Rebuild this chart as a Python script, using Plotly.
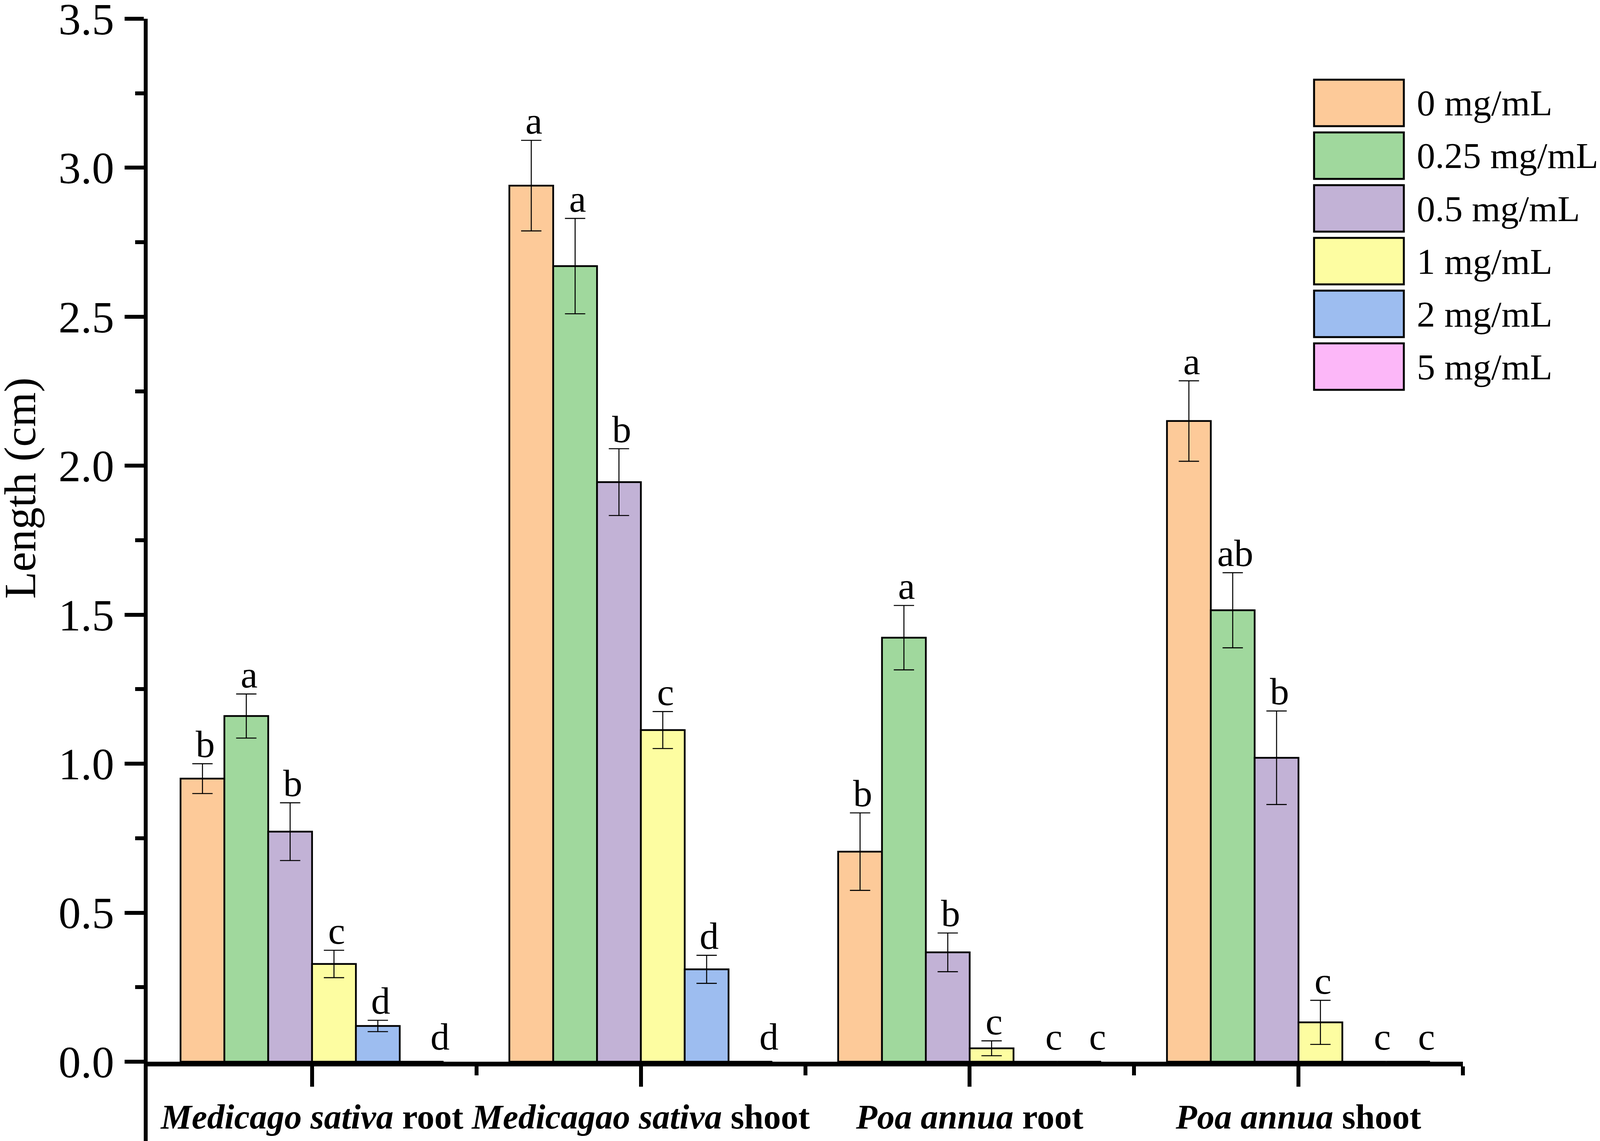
import plotly.graph_objects as go

# ---------------- data ----------------
categories = ["<i>Medicago sativa</i> root", "<i>Medicagao sativa</i> shoot",
              "<i>Poa annua</i> root", "<i>Poa annua</i> shoot"]
series_names = ["0 mg/mL", "0.25 mg/mL", "0.5 mg/mL", "1 mg/mL", "2 mg/mL", "5 mg/mL"]

mean_0 = [0.95, 2.94, 0.705, 2.15]
mean_025 = [1.16, 2.67, 1.423, 1.515]
mean_05 = [0.772, 1.945, 0.367, 1.02]
mean_1 = [0.328, 1.113, 0.045, 0.132]
mean_2 = [0.12, 0.31, 0.0, 0.0]
mean_5 = [0.0, 0.0, 0.0, 0.0]

err_0 = [0.05, 0.152, 0.13, 0.135]
err_025 = [0.074, 0.16, 0.108, 0.126]
err_05 = [0.097, 0.112, 0.065, 0.157]
err_1 = [0.046, 0.062, 0.025, 0.074]
err_2 = [0.019, 0.047, None, None]
err_5 = [None, None, None, None]

letters_0 = ["b", "a", "b", "a"]
letters_025 = ["a", "a", "a", "ab"]
letters_05 = ["b", "b", "b", "b"]
letters_1 = ["c", "c", "c", "c"]
letters_2 = ["d", "d", "c", "c"]
letters_5 = ["d", "d", "c", "c"]

y_tick_vals = [0.0, 0.5, 1.0, 1.5, 2.0, 2.5, 3.0, 3.5]
y_tick_text = ["0.0", "0.5", "1.0", "1.5", "2.0", "2.5", "3.0", "3.5"]
y_title = "Length (cm)"

colors = ["#FDCA99", "#A0D89D", "#C2B2D6", "#FDFDA1", "#9DBDF0", "#FCB7F8"]

means = [mean_0, mean_025, mean_05, mean_1, mean_2, mean_5]
errs = [err_0, err_025, err_05, err_1, err_2, err_5]
letters = [letters_0, letters_025, letters_05, letters_1, letters_2, letters_5]

# ---------------- layout (pixels) ----------------
# page viewport is 4096 wide with an 8px body margin
W, H = 4088, 2913
ML, MR, MT, MB = 370, 351, 40, 203
PW, PH = W - ML - MR, H - MT - MB
FX = 4096 / 4331          # horizontal mapping from the reference image
FONT = "Liberation Serif"


def ref_x(p):             # reference pixel x -> paper x
    return (p * FX - 8 - ML) / PW


def ref_y(p):             # reference pixel y -> paper y
    return (MT + PH - (p - 8)) / PH


x_pos = list(range(len(categories)))
n = len(series_names)
bargap = 0.2
bw = (1 - bargap) / n

fig = go.Figure()
for i in range(n):
    fig.add_trace(go.Bar(
        x=x_pos, y=means[i], name=series_names[i],
        marker=dict(color=colors[i], line=dict(color="black", width=4.5)),
        error_y=dict(type="data", array=errs[i], visible=True,
                     color="black", thickness=2.6, width=26),
        showlegend=False,
    ))

annotations = []
# significance letters above each bar
for i in range(n):
    off = -(1 - bargap) / 2 + bw * (i + 0.5)
    for g in range(len(categories)):
        v = means[i][g]
        e = errs[i][g] or 0
        zero = v == 0
        annotations.append(dict(
            x=x_pos[g] + off, y=v + e, xref="x", yref="y",
            text=letters[i][g], showarrow=False,
            xanchor="center", yanchor="bottom",
            xshift=47 if zero else 7, yshift=8 if zero else -6,
            font=dict(family=FONT, size=98, color="black"),
        ))

# legend with large swatches, drawn like the original
shapes = []
box_x0, box_x1 = 3557, 3800
box_top, box_h, box_step = 204, 119, 135
text_x = 3833
for i, name in enumerate(series_names):
    t = box_top + i * box_step
    shapes.append(dict(type="rect", xref="paper", yref="paper",
                       x0=ref_x(box_x0), x1=ref_x(box_x1),
                       y0=ref_y(t + box_h), y1=ref_y(t),
                       fillcolor=colors[i], line=dict(color="black", width=5)))
    annotations.append(dict(
        x=ref_x(text_x), y=ref_y(t + box_h / 2), xref="paper", yref="paper",
        text=name, showarrow=False, xanchor="left", yanchor="middle",
        font=dict(family=FONT, size=94, color="black"),
    ))

# y axis title
annotations.append(dict(
    x=ref_x(55), y=ref_y(1250), xref="paper", yref="paper",
    text=y_title, textangle=-90, showarrow=False,
    xanchor="center", yanchor="middle",
    font=dict(family=FONT, size=114, color="black"),
))

# y axis line continues below the x axis down to the bottom edge
shapes.append(dict(type="line", xref="paper", yref="paper",
                   x0=-5 / PW, x1=-5 / PW, y0=0, y1=-(MB + 5) / PH,
                   line=dict(color="black", width=10)))

fig.update_layout(
    width=W, height=H,
    margin=dict(l=ML, r=MR, t=MT, b=MB, autoexpand=False),
    paper_bgcolor="white", plot_bgcolor="white",
    barmode="group", bargap=bargap, bargroupgap=0,
    shapes=shapes, annotations=annotations,
    font=dict(family=FONT, color="black"),
    showlegend=False,
)

fig.update_xaxes(
    range=[-0.5, 3.5], tickvals=x_pos,
    ticktext=["<b>" + c + "</b>" for c in categories],
    tickfont=dict(family=FONT, size=89, color="black"),
    tickangle=0,
    showline=True, linecolor="black", linewidth=12,
    ticks="outside", ticklen=52, tickwidth=10, tickcolor="black",
    ticklabelstandoff=0, ticklabeloverflow="allow",
    minor=dict(tickvals=[0.5, 1.5, 2.5, 3.5], ticks="outside", ticklen=23,
               tickwidth=10, tickcolor="black"),
    showgrid=False, zeroline=False, fixedrange=True,
)

fig.update_yaxes(
    range=[0, 3.5], tickvals=y_tick_vals, ticktext=y_tick_text,
    tickfont=dict(family=FONT, size=114, color="black"),
    showline=True, linecolor="black", linewidth=10,
    ticks="outside", ticklen=49, tickwidth=10, tickcolor="black",
    ticklabelstandoff=4, ticklabeloverflow="allow",
    minor=dict(dtick=0.25, tick0=0, ticks="outside", ticklen=22,
               tickwidth=10, tickcolor="black"),
    showgrid=False, zeroline=False, fixedrange=True,
)

fig.write_html("out.html")
